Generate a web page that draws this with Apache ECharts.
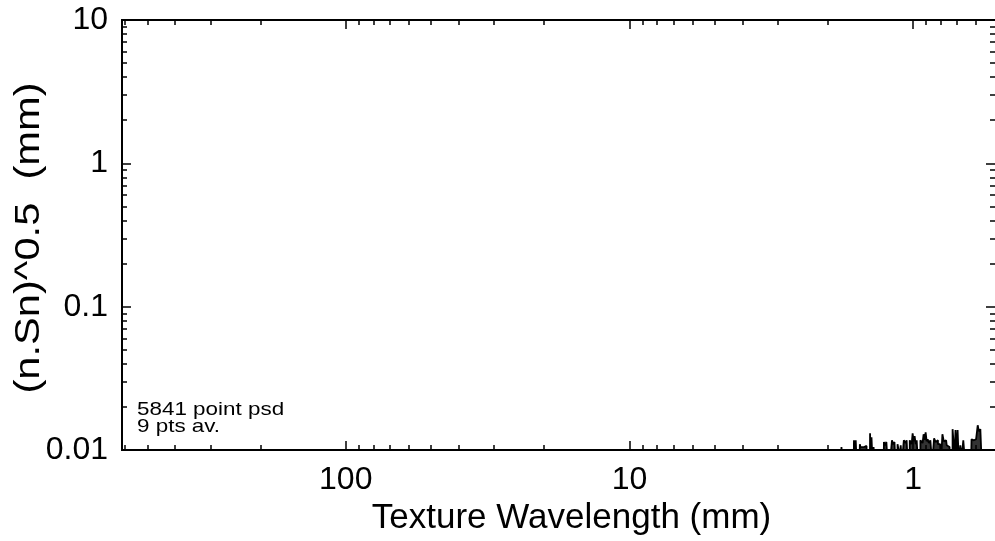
<!DOCTYPE html>
<html>
<head>
<meta charset="utf-8">
<script src="https://cdn.jsdelivr.net/npm/echarts@6/dist/echarts.min.js"></script>
<style>
  html, body { margin: 0; padding: 0; background: #fff; }
  #chart { width: 995px; height: 541px; }
</style>
</head>
<body>
<div id="chart"></div>
<script>
// Texture wavelength (mm) of each plotted PSD point, long wavelengths first
const psdWavelength = [
  614, 1.80, 1.778, 1.770, 1.620, 1.613, 1.600, 1.587, 1.575, 1.545,
  1.537, 1.530, 1.488, 1.476, 1.464, 1.455, 1.420, 1.417, 1.410, 1.394,
  1.385, 1.372, 1.365, 1.270, 1.265, 1.250, 1.235, 1.225, 1.190, 1.185,
  1.170, 1.157, 1.150, 1.120, 1.110, 1.102, 1.090, 1.067, 1.058, 1.050,
  1.040, 1.016, 1.008, 1.000, 0.992, 0.984, 0.975, 0.968, 0.955, 0.930,
  0.922, 0.915, 0.907, 0.900, 0.892, 0.8855, 0.875, 0.864, 0.850, 0.837,
  0.830, 0.823, 0.812, 0.803, 0.793, 0.784, 0.775, 0.765, 0.758, 0.753,
  0.735, 0.717, 0.712, 0.706, 0.700, 0.694, 0.686, 0.678, 0.670, 0.661,
  0.650, 0.625, 0.620, 0.610, 0.600, 0.594, 0.590, 0.583, 0.576, 0.570,
  0.515
];
// (n.Sn)^0.5 in mm for each wavelength above
const psdAmplitude = [
  0.008, 0.008, 0.0105, 0.008, 0.008, 0.0117, 0.009, 0.0117, 0.008, 0.008,
  0.0110, 0.0105, 0.0105, 0.0107, 0.0107, 0.008, 0.008, 0.0131, 0.009, 0.0123,
  0.008, 0.0105, 0.008, 0.008, 0.0114, 0.0108, 0.0114, 0.008, 0.008, 0.0117,
  0.0110, 0.0114, 0.008, 0.0110, 0.009, 0.0108, 0.008, 0.0117, 0.0112, 0.0117,
  0.008, 0.0117, 0.0110, 0.0131, 0.0115, 0.0125, 0.0110, 0.0117, 0.008, 0.0117,
  0.0112, 0.0129, 0.0118, 0.0133, 0.0115, 0.0119, 0.0112, 0.0117, 0.008, 0.0121,
  0.0114, 0.0117, 0.0110, 0.0110, 0.008, 0.0129, 0.0115, 0.0117, 0.0108, 0.0105,
  0.008, 0.0140, 0.009, 0.0138, 0.009, 0.0138, 0.008, 0.0108, 0.009, 0.0117,
  0.008, 0.008, 0.0119, 0.0117, 0.0119, 0.0120, 0.0149, 0.0135, 0.0140, 0.008,
  0.008
];

// Axis ranges and ticks
const xRange = [0.5145, 614.9];
const yRange = [0.01, 10];
const xMajorTicks = [1, 10, 100];
const xTickLabels = ['1', '10', '100'];
const xMinorTicks = [0.6, 0.7, 0.8, 0.9, 2, 3, 4, 5, 6, 7, 8, 9,
  20, 30, 40, 50, 60, 70, 80, 90, 200, 300, 400, 500, 600];
const yMajorTicks = [0.01, 0.1, 1, 10];
const yTickLabels = ['0.01', '0.1', '1', '10'];
const yMinorTicks = [0.02, 0.03, 0.04, 0.05, 0.06, 0.07, 0.08, 0.09,
  0.2, 0.3, 0.4, 0.5, 0.6, 0.7, 0.8, 0.9, 2, 3, 4, 5, 6, 7, 8, 9];

const xTitle = 'Texture Wavelength (mm)';
const yTitle = '(n.Sn)^0.5  (mm)';
const noteLines = ['5841 point psd', '9 pts av.'];

const FONT = '"Liberation Sans", Arial, Helvetica, sans-serif';
const INK = '#000';

function labelFor(values, labels) {
  return function (v) {
    let best = 0;
    for (let i = 1; i < values.length; i++) {
      if (Math.abs(Math.log10(values[i]) - Math.log10(v)) <
          Math.abs(Math.log10(values[best]) - Math.log10(v))) best = i;
    }
    return labels[best];
  };
}

function xAxisDef(position, major, withLabels) {
  return {
    type: 'log', logBase: 10, inverse: true,
    min: xRange[0], max: xRange[1],
    position: position,
    axisLine: { show: true, onZero: false, lineStyle: { color: INK, width: 2 } },
    axisTick: {
      show: true, inside: true, length: major ? 9 : 5,
      customValues: major ? xMajorTicks : xMinorTicks,
      lineStyle: { color: INK, width: 1.5 }
    },
    axisLabel: withLabels ? {
      show: true, customValues: xMajorTicks, margin: 14,
      color: INK, fontFamily: FONT, fontSize: 32,
      formatter: labelFor(xMajorTicks, xTickLabels)
    } : { show: false },
    splitLine: { show: false },
    minorTick: { show: false }
  };
}

function yAxisDef(position, major, withLabels, lineShown) {
  return {
    type: 'log', logBase: 10,
    min: yRange[0], max: yRange[1],
    position: position,
    axisLine: { show: lineShown, onZero: false, lineStyle: { color: INK, width: 2 } },
    axisTick: {
      show: true, inside: true, length: major ? 9 : 5,
      customValues: major ? yMajorTicks : yMinorTicks,
      lineStyle: { color: INK, width: 1.5 }
    },
    axisLabel: withLabels ? {
      show: true, customValues: yMajorTicks, margin: 14,
      color: INK, fontFamily: FONT, fontSize: 32,
      formatter: labelFor(yMajorTicks, yTickLabels)
    } : { show: false },
    splitLine: { show: false },
    minorTick: { show: false }
  };
}

const xAxes = [
  xAxisDef('bottom', true, true),
  xAxisDef('bottom', false, false),
  xAxisDef('top', true, false),
  xAxisDef('top', false, false)
];
xAxes[0].name = xTitle;
xAxes[0].nameLocation = 'middle';
xAxes[0].nameGap = 50;
xAxes[0].nameTextStyle = { color: INK, fontFamily: FONT, fontSize: 35, padding: [0, 0, 0, 26] };

const yAxes = [
  yAxisDef('left', true, true, true),
  yAxisDef('left', false, false, true),
  yAxisDef('right', true, false, false),
  yAxisDef('right', false, false, false)
];

const chart = echarts.init(document.getElementById('chart'), null, { renderer: 'canvas' });
chart.setOption({
  animation: false,
  backgroundColor: '#fff',
  grid: { left: 122, right: -1, top: 20, bottom: 88, containLabel: false },
  xAxis: xAxes,
  yAxis: yAxes,
  graphic: [
    {
      // vertical axis title, drawn along the axis and a little drawn out
      type: 'text', x: 29, y: 238, rotation: Math.PI / 2, scaleX: 1.19,
      style: {
        text: yTitle, fill: INK, font: '35px ' + FONT,
        align: 'center', verticalAlign: 'middle'
      }
    },
    {
      type: 'text', x: 137, y: 402, scaleX: 1.18,
      style: {
        text: noteLines.join('\n'), fill: INK, font: '19px ' + FONT,
        lineHeight: 16.5, align: 'left', verticalAlign: 'top'
      }
    }
  ],
  series: [{
    type: 'line',
    xAxisIndex: 0, yAxisIndex: 0,
    data: psdWavelength.map((w, i) => [w, psdAmplitude[i]]),
    step: 'middle',
    showSymbol: false, symbol: 'none',
    clip: true,
    lineStyle: { color: INK, width: 1.8 },
    areaStyle: { color: INK, opacity: 0.8 }
  }]
});
</script>
</body>
</html>
